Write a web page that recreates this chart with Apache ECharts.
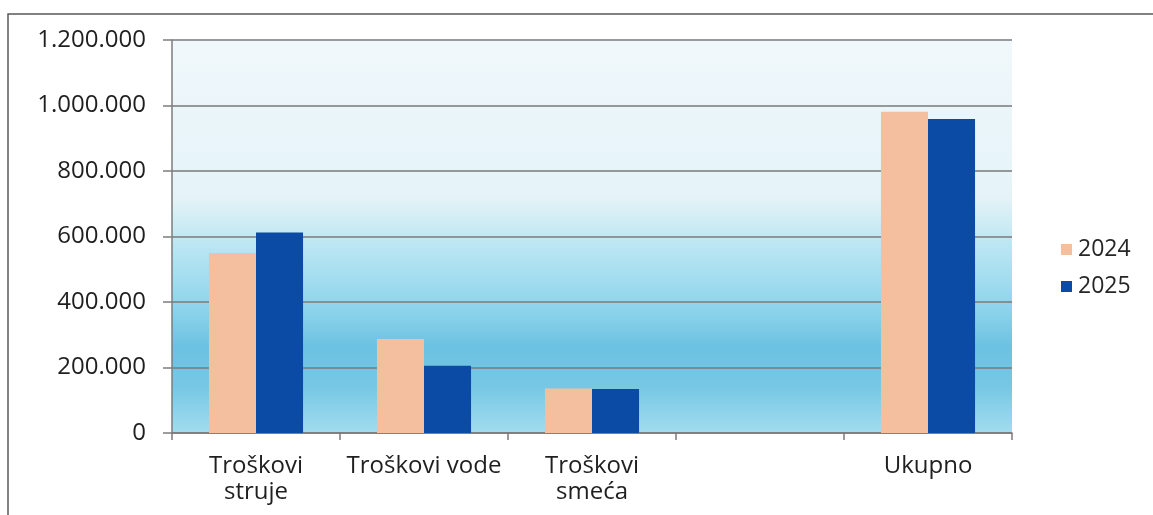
<!DOCTYPE html>
<html>
<head>
<meta charset="utf-8">
<script src="https://cdn.jsdelivr.net/npm/echarts@6/dist/echarts.min.js"></script>
<style>
  html, body { margin: 0; padding: 0; background: #fff; }
  #chart { width: 1153px; height: 515px; }
</style>
</head>
<body>
<div id="chart"></div>
<script>
// Cost categories (the fourth slot is left blank as a spacer before the total)
const categories = ['Troškovi\nstruje', 'Troškovi vode', 'Troškovi\nsmeća', '', 'Ukupno'];
const seriesNames = ['2024', '2025'];
const values2024 = [550000, 287000, 136000, null, 981000];
const values2025 = [612000, 205000, 134000, null, 959000];
const yTicks = { min: 0, max: 1200000, interval: 200000 };

const FONT = '"Open Sans", "DejaVu Sans", sans-serif';
const fmt = v => String(v).replace(/\B(?=(\d{3})+(?!\d))/g, '.');

const chart = echarts.init(document.getElementById('chart'));
chart.setOption({
  backgroundColor: '#ffffff',
  animation: false,
  graphic: [
    // outer chart frame
    { type: 'rect', z: -10, shape: { x: 8, y: 14, width: 1160, height: 520 },
      style: { fill: 'none', stroke: '#5a5a5a', lineWidth: 1.5 } }
  ],
  grid: {
    left: 172, right: 141, top: 40, bottom: 82,
    show: true,
    borderWidth: 0,
    backgroundColor: {
      type: 'linear', x: 0, y: 0, x2: 0, y2: 1,
      colorStops: [
        { offset: 0.00, color: '#f0f8fb' },
        { offset: 0.40, color: '#e5f3f8' },
        { offset: 0.50, color: '#c2e8f3' },
        { offset: 0.60, color: '#a5def0' },
        { offset: 0.70, color: '#88d1ea' },
        { offset: 0.78, color: '#6cc2e2' },
        { offset: 0.88, color: '#76c7e4' },
        { offset: 1.00, color: '#a2dcef' }
      ]
    }
  },
  legend: {
    orient: 'vertical',
    left: 1056, top: 233,
    itemWidth: 11, itemHeight: 11, itemGap: 14,
    icon: 'rect',
    textStyle: { fontFamily: FONT, fontSize: 23, color: '#262626', padding: [0, 0, 0, 1] },
    data: seriesNames
  },
  xAxis: {
    type: 'category',
    data: categories,
    axisLine: { lineStyle: { color: '#7d7a78', width: 1.5 } },
    axisTick: { show: true, interval: 0, length: 7, lineStyle: { color: '#7d7a78', width: 1.5 } },
    axisLabel: {
      interval: 0, margin: 20,
      fontFamily: FONT, fontSize: 24, color: '#1f1f1f', lineHeight: 26
    }
  },
  yAxis: {
    type: 'value',
    min: yTicks.min, max: yTicks.max, interval: yTicks.interval,
    axisLine: { show: true, lineStyle: { color: '#7d7d7d', width: 1.5 } },
    axisTick: { show: true, length: 9, lineStyle: { color: '#7d7d7d', width: 1.5 } },
    axisLabel: {
      margin: 26,
      fontFamily: FONT, fontSize: 24, color: '#1f1f1f',
      formatter: fmt
    },
    splitLine: { show: true, lineStyle: { color: '#7a7a7a', width: 1.5 } }
  },
  series: [
    {
      name: seriesNames[0], type: 'bar', data: values2024,
      barGap: '0%', barCategoryGap: '44%',
      itemStyle: { color: '#f4bf9e' }
    },
    {
      name: seriesNames[1], type: 'bar', data: values2025,
      barGap: '0%', barCategoryGap: '44%',
      itemStyle: { color: '#0b4ba6' }
    }
  ]
});
</script>
</body>
</html>
